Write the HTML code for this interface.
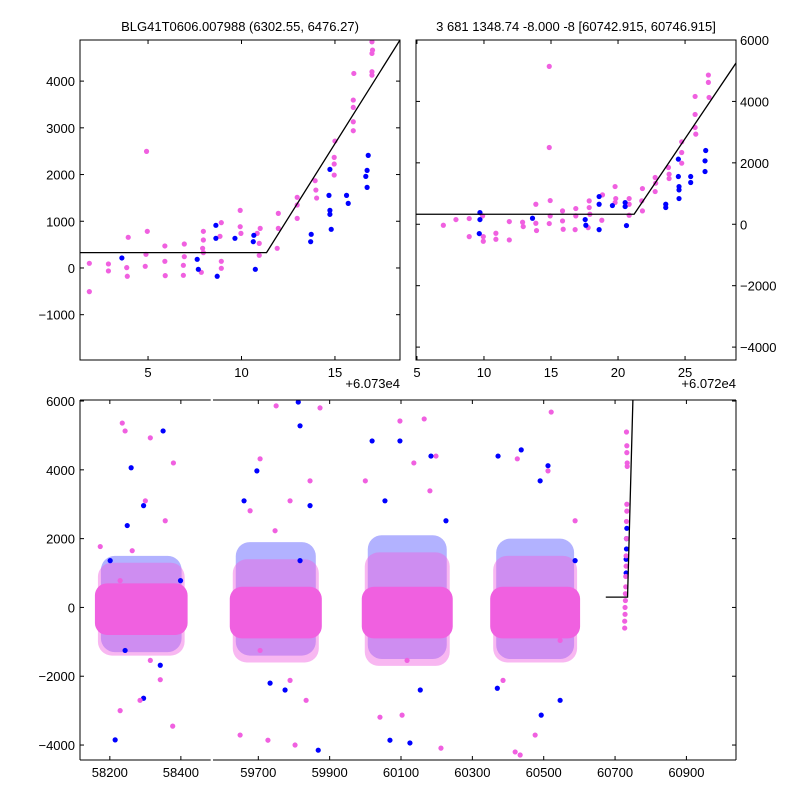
<!DOCTYPE html>
<html><head><meta charset="utf-8"><style>
body{margin:0;background:#fff}
svg{display:block;font-family:"Liberation Sans","DejaVu Sans",sans-serif}
</style></head><body>
<svg id="c" width="800" height="800" viewBox="0 0 800 800" xmlns="http://www.w3.org/2000/svg">
<defs>
<clipPath id="cpA"><rect x="80" y="40" width="320" height="320"/></clipPath>
<clipPath id="cpB"><rect x="416" y="40" width="320" height="320"/></clipPath>
<clipPath id="cpC"><rect x="80" y="400" width="130.7" height="360"/></clipPath>
<clipPath id="cpD"><rect x="213" y="400" width="523" height="360"/></clipPath>
</defs>
<text x="240" y="31" text-anchor="middle" font-size="13">BLG41T0606.007988 (6302.55, 6476.27)</text>
<text x="576" y="31" text-anchor="middle" font-size="13">3 681 1348.74 -8.000 -8 [60742.915, 60746.915]</text>
<text x="400" y="388" text-anchor="end" font-size="13">+6.073e4</text>
<text x="736" y="388" text-anchor="end" font-size="13">+6.072e4</text>
</svg>
<script>
// ---- Panel A (top-left) data ----
const aPinkX=[1.86,1.86,2.88,2.88,3.94,3.86,3.89,4.92,4.96,4.89,4.85,5.9,5.9,5.92,6.94,6.94,6.89,6.89,7.96,7.96,7.92,7.96,7.85,8.92,8.85,8.92,8.92,9.93,9.93,9.97,11.0,10.95,10.95,10.84,11.97,11.97,11.91,12.98,12.98,12.98,13.94,13.98,14.02,15.0,14.96,14.96,14.96,15.98,15.98,15.98,15.98,16.01,16.98,17.01,16.98,16.98,16.98];
const aPinkY=[100,-506,86,-64,656,7,-178,2496,784,292,36,471,143,-164,513,242,57,-157,784,599,421,328,-93,970,677,143,-7,1233,884,741,848,527,271,741,1169,848,421,1512,1062,1348,1868,1668,1497,2717,2367,2225,1989,3594,3437,3130,2938,4164,4841,4663,4592,4200,4128];
const aBlueX=[3.6,8.63,8.63,8.7,7.63,7.69,9.65,10.66,10.63,10.74,13.73,13.7,14.73,14.68,14.73,14.73,14.8,15.62,15.71,16.78,16.72,16.65,16.72];
const aBlueY=[214,913,635,-178,185,-29,635,699,563,-29,720,563,2110,1554,1233,1148,827,1554,1383,2410,2089,1961,1725];
const aFitX=[1.36,11.34,18.48];
const aFitY=[328,328,4880];
const aXTicks=[5,10,15];
const aYTicks=[-1000,0,1000,2000,3000,4000];
// ---- Panel B (top-right) data ----
const bPinkX=[6.97,7.91,8.9,8.9,9.9,9.95,9.95,10.89,10.89,11.89,11.89,12.88,12.93,13.87,13.87,13.92,14.87,14.87,14.94,14.94,14.87,15.86,15.86,15.91,16.85,16.85,16.8,17.85,17.85,17.9,17.77,18.84,18.79,19.78,19.83,19.78,20.83,20.83,20.83,21.82,21.77,21.82,22.77,22.81,22.77,23.76,23.81,23.81,24.75,24.75,24.75,25.75,25.75,25.75,25.8,26.74,26.74,26.79];
const bPinkY=[-33,152,185,-402,272,-402,-554,-293,-489,87,-511,65,-76,652,33,-206,5142,2500,772,272,22,435,109,-163,511,272,-174,761,544,326,-109,957,130,1228,837,707,837,652,293,1163,761,435,1522,1337,1065,1848,1630,1489,2685,2337,1989,4163,3576,3152,2935,4859,4620,4130];
const bBlueX=[9.7,9.7,9.65,13.62,17.55,17.6,18.59,18.59,18.59,19.58,20.53,20.53,20.63,23.56,23.56,24.5,24.5,24.55,24.55,24.55,25.42,25.42,26.54,26.49,26.49];
const bBlueY=[380,152,-304,196,152,-33,902,652,-174,609,707,576,-43,652,544,2120,1554,1228,1120,837,1554,1359,2402,2065,1717];
const bFitX=[4.93,21.2,28.8];
const bFitY=[326,326,5250];
const bXTicks=[5,10,15,20,25];
const bYTicks=[-4000,-2000,0,2000,4000,6000];
// ---- Panel C/D (bottom, broken axis) data ----
const coreStart=[58158,59620,59990,60350];
const coreEnd=[58419,59878,60245,60602];
const corePinkLo=[-800,-900,-900,-900];
const corePinkHi=[700,600,600,600];
const fringeLo=[-1400,-1600,-1700,-1600];
const fringeHi=[1300,1400,1600,1500];
const coreBlueLo=[-1300,-1400,-1500,-1500];
const coreBlueHi=[1500,1900,2100,2000];
const cPinkX=[58235,58243,58314,58300,58356,58379,58173,58229,58263,58314,58377,58229,58285,58342,59750,59705,59845,59789,59727,59803,59649,59834,59873,59747,59677,59789,59705,60097,60165,60136,60198,60041,60103,60212,60117,60000,60181,60521,60426,60512,60420,60434,60476,60386,60546,60588,60732,60733,60733,60734,60734,60733,60733,60732,60732,60731,60731,60730,60730,60729,60729,60728,60728,60727,60727];
const cPinkY=[5360,5130,4930,3100,2520,4200,1770,780,1650,-1540,-3450,-3000,-2700,-2100,5860,4320,3680,3100,-3860,-4000,-3710,-2700,5800,2230,2810,-2120,-1250,5420,5480,4200,4400,-3190,-3130,-4090,-1540,3680,3390,5680,4320,3970,-4200,-4290,-3710,-2120,-960,2520,5100,4700,4500,4200,4100,3000,2800,2500,2000,1500,1200,900,600,400,200,0,-200,-400,-600];
const cBlueX=[58260,58350,58295,58249,58215,58295,58243,58342,58399,58201,59812,59696,59817,59845,59868,59733,59775,59660,59817,60019,60097,60184,60069,60125,60055,60226,60154,60437,60372,60512,60490,60370,60493,60546,60588,60733,60732,60732,60731,60731];
const cBlueY=[4060,5130,2960,2380,-3850,-2640,-1250,-1680,780,1360,5970,3970,5280,2960,-4150,-2200,-2400,3100,1360,4840,4840,4400,-3860,-3940,3100,2520,-2400,4580,4400,4120,3680,-2350,-3130,-2700,1360,2300,2000,1700,1400,1000];
const cFitX=[60674,60735,60750];
const cFitY=[300,300,6030];
const cLeftTicks=[58200,58400];
const cRightTicks=[59700,59900,60100,60300,60500,60700,60900];
const cYTicks=[-4000,-2000,0,2000,4000,6000];

const NS='http://www.w3.org/2000/svg';
const svg=document.getElementById('c');
const PINK='#f060e0',BLUE='#0000ff';
function mk(tag,attrs,parent){const e=document.createElementNS(NS,tag);for(const k in attrs)e.setAttribute(k,attrs[k]);(parent||svg).appendChild(e);return e;}
function lin(d0,d1,p0,p1){return v=>p0+(v-d0)*(p1-p0)/(d1-d0);}

const axA=lin(1.36,18.48,80,400), ayA=lin(-1970,4880,360,40);
const axB=lin(4.93,28.8,416,736), ayB=lin(-4420,6000,360,40);
const axC=lin(58116,58484,80,210.7), axD=lin(59573,61039,213,736), ayC=lin(-4435,6030,760,400);

function group(name,clip){const g=mk('g',clip?{'clip-path':'url(#'+clip+')'}:{});return g;}
function dots(g,xs,ys,sx,sy,col,name){for(let i=0;i<xs.length;i++){const c=mk('circle',{cx:sx(xs[i]),cy:sy(ys[i]),r:2.6,fill:col},g);}}
function fit(g,xs,ys,sx,sy){const p=xs.map((x,i)=>sx(x)+','+sy(ys[i])).join(' ');const l=mk('polyline',{points:p,fill:'none',stroke:'#000','stroke-width':1.3},g);}
function line(x1,y1,x2,y2,g,w){return mk('line',{x1,y1,x2,y2,stroke:'#000','stroke-width':w||1},g);}
function txt(x,y,s,anchor,g){const t=mk('text',{x,y,'text-anchor':anchor,'font-size':13},g);t.textContent=s;return t;}

const gA=group('left-zoom-panel','cpA');
dots(gA,aPinkX,aPinkY,axA,ayA,PINK,'pink-point');
dots(gA,aBlueX,aBlueY,axA,ayA,BLUE,'blue-point');
fit(gA,aFitX,aFitY,axA,ayA);
const gB=group('right-zoom-panel','cpB');
dots(gB,bPinkX,bPinkY,axB,ayB,PINK,'pink-point');
dots(gB,bBlueX,bBlueY,axB,ayB,BLUE,'blue-point');
fit(gB,bFitX,bFitY,axB,ayB);
function bottom(clip,sx,name){
  const g=group(name,clip);
  for(let i=0;i<coreStart.length;i++){
    const x0=sx(coreStart[i]),w=sx(coreEnd[i])-x0;
    const b=mk('rect',{x:x0+6,y:ayC(coreBlueHi[i]),width:w-12,height:ayC(coreBlueLo[i])-ayC(coreBlueHi[i]),rx:14,fill:BLUE,'fill-opacity':0.3},g);
    
    const f=mk('rect',{x:x0+3,y:ayC(fringeHi[i]),width:w-6,height:ayC(fringeLo[i])-ayC(fringeHi[i]),rx:14,fill:PINK,'fill-opacity':0.45},g);
    
    const p=mk('rect',{x:x0,y:ayC(corePinkHi[i]),width:w,height:ayC(corePinkLo[i])-ayC(corePinkHi[i]),rx:12,fill:PINK},g);
    
  }
  dots(g,cBlueX,cBlueY,sx,ayC,BLUE,'blue-point');
  dots(g,cPinkX,cPinkY,sx,ayC,PINK,'pink-point');
  fit(g,cFitX,cFitY,sx,ayC);
}
bottom('cpC',axC,'bottom-left-segment');
bottom('cpD',axD,'bottom-right-segment');

const gx=group('axes',null);
mk('rect',{x:80,y:40,width:320,height:320,fill:'none',stroke:'#000','stroke-width':1},gx);
aXTicks.forEach(v=>{const x=axA(v);line(x,360,x,356,gx);line(x,40,x,44,gx);txt(x,377,String(v),'middle',gx);});
aYTicks.forEach(v=>{const y=ayA(v);line(80,y,84,y,gx);line(400,y,396,y,gx);txt(75,y+5,v<0?'\u2212'+(-v):String(v),'end',gx);});
mk('rect',{x:416,y:40,width:320,height:320,fill:'none',stroke:'#000','stroke-width':1},gx);
bXTicks.forEach(v=>{const x=axB(v);line(x,360,x,356,gx);line(x,40,x,44,gx);txt(x,377,String(v),'middle',gx);});
bYTicks.forEach(v=>{const y=ayB(v);line(416,y,420,y,gx);line(736,y,732,y,gx);txt(740,y+5,v<0?'\u2212'+(-v):String(v),'start',gx);});
line(80,400,210.7,400,gx);line(80,760,210.7,760,gx);line(80,400,80,760,gx);
cLeftTicks.forEach(v=>{const x=axC(v);line(x,760,x,756,gx);line(x,400,x,404,gx);txt(x,777,String(v),'middle',gx);});
cYTicks.forEach(v=>{const y=ayC(v);line(80,y,84,y,gx);txt(75,y+5,v<0?'\u2212'+(-v):String(v),'end',gx);});
line(213,400,736,400,gx);line(213,760,736,760,gx);line(736,400,736,760,gx);
cRightTicks.forEach(v=>{const x=axD(v);line(x,760,x,756,gx);line(x,400,x,404,gx);txt(x,777,String(v),'middle',gx);});
cYTicks.forEach(v=>{const y=ayC(v);line(736,y,732,y,gx);});
</script>
</body></html>
